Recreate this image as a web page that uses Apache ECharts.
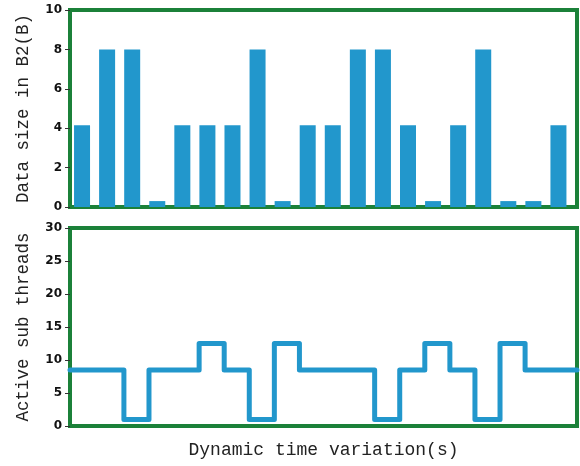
<!DOCTYPE html>
<html>
<head>
<meta charset="utf-8">
<script src="https://cdn.jsdelivr.net/npm/echarts@6/dist/echarts.min.js"></script>
<style>html,body{margin:0;padding:0;background:#fff}#c{width:580px;height:466px}</style>
</head>
<body>
<div id="c"></div>
<script>
// Top panel: data size per time slot
var slots = [1,2,3,4,5,6,7,8,9,10,11,12,13,14,15,16,17,18,19,20];
var dataSize = [4.15,8,8,0.3,4.15,4.15,4.15,8,0.3,4.15,4.15,8,8,4.15,0.3,4.15,8,0.3,0.3,4.15];
// Bottom panel: active sub threads (step changes)
var threadTimes  = [0.52,2.67,3.67,5.67,6.67,7.67,8.67,9.67,12.67,13.67,14.67,15.67,16.67,17.67,18.67,20.74];
var threadCounts = [8.5,1,8.5,12.5,8.5,1,12.5,8.5,1,8.5,12.5,8.5,1,12.5,8.5,8.5];
var topTicks = [0,2,4,6,8,10];
var bottomTicks = [0,5,10,15,20,25,30];

var GREEN = '#1b8139', BLUE = '#2297cc';
var tickFont = {fontFamily:'DejaVu Sans', fontWeight:'bold', fontSize:12, color:'#111'};
var titleFont = {fontFamily:'Liberation Mono', fontSize:17.5, color:'#222'};

var barData = slots.map(function(s,i){return [s, dataSize[i]];});
var stepData = threadTimes.map(function(t,i){return [t, threadCounts[i]];});

var chart = echarts.init(document.getElementById('c'), null, {renderer:'canvas'});
chart.setOption({
  animation:false,
  grid:[
    {left:70, right:3, top:10, height:197, show:true, borderColor:GREEN, borderWidth:4, backgroundColor:'transparent'},
    {left:70, right:3, top:228, height:198, show:true, borderColor:GREEN, borderWidth:4, backgroundColor:'transparent'}
  ],
  xAxis:[
    {type:'value', gridIndex:0, min:0.52, max:20.74, axisLine:{show:false}, axisTick:{show:false}, axisLabel:{show:false}, splitLine:{show:false}},
    {type:'value', gridIndex:1, min:0.52, max:20.74, axisLine:{show:false}, axisTick:{show:false}, axisLabel:{show:false}, splitLine:{show:false},
     name:'Dynamic time variation(s)', nameLocation:'middle', nameGap:15, nameTextStyle:{fontFamily:'Liberation Mono', fontSize:18, color:'#222'}}
  ],
  yAxis:[
    {type:'value', gridIndex:0, min:0, max:10, interval:2, axisLine:{show:false},
     axisTick:{show:true, length:5, lineStyle:{color:'#333', width:1}},
     axisLabel:Object.assign({margin:8, formatter:function(v){return topTicks.indexOf(v)>=0?String(v):'';}}, tickFont),
     splitLine:{show:false},
     name:'Data size in B2(B)', nameLocation:'middle', nameGap:38, nameTextStyle:titleFont},
    {type:'value', gridIndex:1, min:0, max:30, interval:5, axisLine:{show:false},
     axisTick:{show:true, length:5, lineStyle:{color:'#333', width:1}},
     axisLabel:Object.assign({margin:8, formatter:function(v){return bottomTicks.indexOf(v)>=0?String(v):'';}}, tickFont),
     splitLine:{show:false},
     name:'Active sub threads', nameLocation:'middle', nameGap:38, nameTextStyle:titleFont}
  ],
  series:[
    {type:'bar', xAxisIndex:0, yAxisIndex:0, data:barData, barWidth:16, itemStyle:{color:BLUE}, z:1},
    {type:'line', xAxisIndex:1, yAxisIndex:1, data:stepData, step:'end', showSymbol:false,
     lineStyle:{color:BLUE, width:5, cap:'round', join:'round'}, z:1}
  ]
});
</script>
</body>
</html>
